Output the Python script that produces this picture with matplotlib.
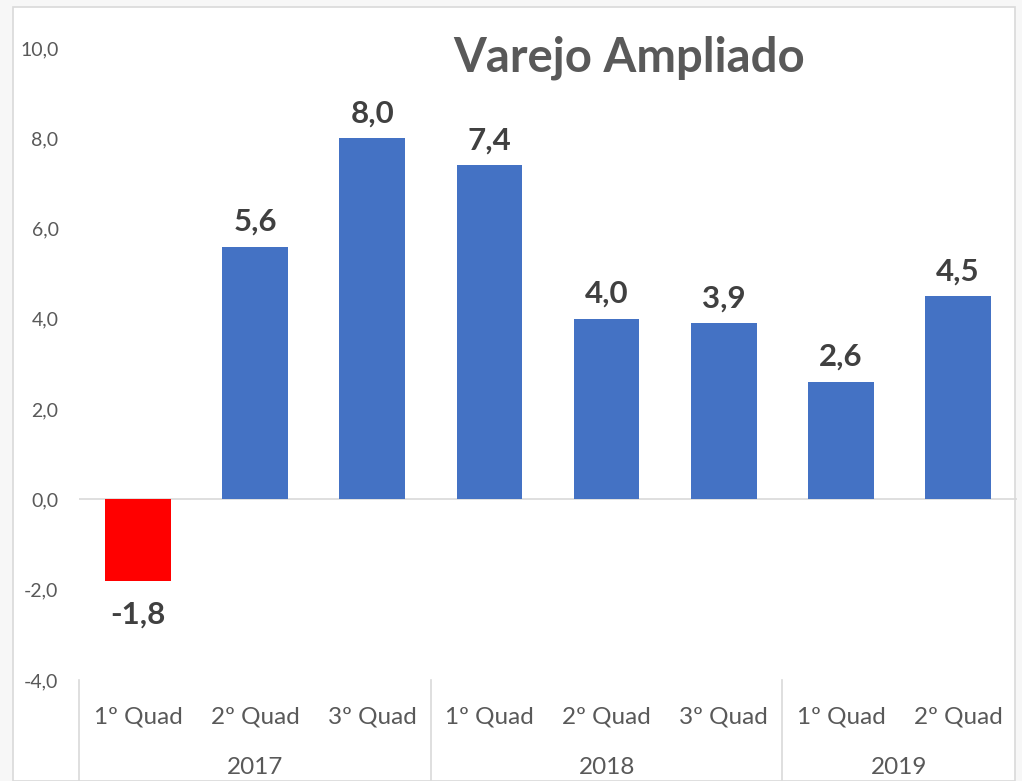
import matplotlib
matplotlib.use("Agg")
import matplotlib.pyplot as plt
from matplotlib.patches import Rectangle
from matplotlib.lines import Line2D

quads = ["1º Quad", "2º Quad", "3º Quad", "1º Quad", "2º Quad", "3º Quad", "1º Quad", "2º Quad"]
years = ["2017", "2018", "2019"]
year_counts = [3, 3, 2]
values = [-1.8, 5.6, 8.0, 7.4, 4.0, 3.9, 2.6, 4.5]
yticks = [-4, -2, 0, 2, 4, 6, 8, 10]
title = "Varejo Ampliado"

W, H = 1022, 781
fig = plt.figure(figsize=(W / 100, H / 100), dpi=100)
fig.patch.set_facecolor("#f7f7f7")
# white chart frame
fig.patches.append(Rectangle((13 / W, 0), (1015 - 13) / W, 1 - 7 / H, transform=fig.transFigure,
                             facecolor="white", edgecolor="#d9d9d9", lw=1.2, zorder=-5))

fam = ["Lato", "DejaVu Sans"]
ax = fig.add_axes([79.4 / W, 1 - 680 / H, (1016.6 - 79.4) / W, (680 - 48) / H])
ax.set_zorder(2)
ax.patch.set_visible(False)
x = list(range(len(values)))
colors = ["#FF0000" if v < 0 else "#4472C4" for v in values]
ax.bar(x, values, width=0.56, color=colors, zorder=2)
ax.set_xlim(-0.5, len(values) - 0.5)
ax.set_ylim(-4, 10)
ax.axhline(0, color="#d9d9d9", lw=1.2, zorder=1)
for s in ax.spines.values():
    s.set_visible(False)
ax.set_xticks([])
ax.set_yticks(yticks)
ax.set_yticklabels([f"{t:.1f}".replace(".", ",") for t in yticks], fontsize=14, color="#595959", family=fam)
ax.tick_params(axis="y", length=0, pad=15)

for xi, v in zip(x, values):
    lab = f"{v:.1f}".replace(".", ",")
    if v >= 0:
        ax.annotate(lab, (xi, v), xytext=(0, 8), textcoords="offset points", ha="center", va="bottom",
                    fontsize=22.5, fontweight="bold", color="#404040", family=fam)
    else:
        ax.annotate(lab, (xi, v), xytext=(0, -14), textcoords="offset points", ha="center", va="top",
                    fontsize=22.5, fontweight="bold", color="#404040", family=fam)

# category labels
trans = ax.get_xaxis_transform()
for xi, q in zip(x, quads):
    ax.text(xi, -(717 - 680) / (680 - 48), q, transform=trans, ha="center", va="center",
            fontsize=17.5, color="#595959", family=fam)
start = 0
bounds = [-0.5]
for yr, n in zip(years, year_counts):
    c = start + (n - 1) / 2
    ax.text(c, -(768 - 680) / (680 - 48), yr, transform=trans, ha="center", va="center",
            fontsize=17.5, color="#595959", family=fam)
    start += n
    bounds.append(start - 0.5)
for b in bounds[:-1]:
    ax.add_line(Line2D([b, b], [0, -(781 - 680) / (680 - 48)], transform=trans, color="#d9d9d9",
                       lw=1.2, clip_on=False))

fig.text(629 / W, 1 - 58 / H, title, ha="center", va="center", fontsize=34, fontweight="bold",
         color="#595959", family=fam)

fig.savefig("out.png", dpi=100)
